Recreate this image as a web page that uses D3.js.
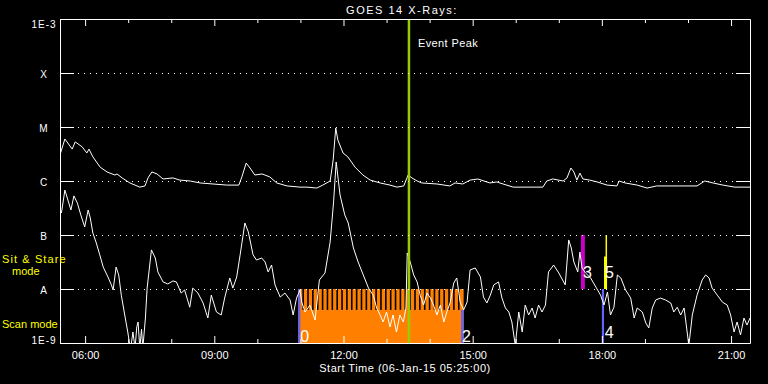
<!DOCTYPE html>
<html><head><meta charset="utf-8">
<script src="https://cdn.jsdelivr.net/npm/d3@7"></script>
<style>
body{margin:0;background:#000}
svg{display:block;background:#000}
text{font-family:"Liberation Sans",Arial,sans-serif;fill:#fff}
</style>
</head><body>
<svg id="chart" width="768" height="384"></svg>
<script>
// ---------- data ----------
const chartTitle = "GOES 14 X-Rays:";
const xAxisLabel = "Start Time (06-Jan-15 05:25:00)";
const startHour = 5 + 25 / 60;           // 05:25
const endHour = 21.44;
const labeledHours = [6, 9, 12, 15, 18, 21];
const hourTickLabels = ["06:00", "09:00", "12:00", "15:00", "18:00", "21:00"];
const minorHours = [7, 8, 10, 11, 13, 14, 16, 17, 19, 20];
const yTickValues = [1e-9, 1e-8, 1e-7, 1e-6, 1e-5, 1e-4, 1e-3];
const yTickLabels = ["1E-9", "A", "B", "C", "M", "X", "1E-3"];
const gridLevels = [1e-8, 1e-7, 1e-6, 1e-5, 1e-4];

// long channel (1-8 A)
const longTimes = [5.43,5.53,5.70,5.77,5.93,6.04,6.09,6.18,6.35,6.51,
  6.69,6.74,6.86,7.04,7.27,7.39,7.46,7.55,7.67,7.81,
  8.04,8.20,8.44,8.67,8.97,9.29,9.57,9.64,9.74,9.83,
  9.94,10.11,10.29,10.45,10.69,10.99,11.15,11.38,11.52,11.69,
  11.76,11.82,11.87,11.99,12.10,12.27,12.45,12.62,12.85,13.08,
  13.24,13.40,13.50,13.59,13.71,13.82,14.17,14.47,14.59,14.77,
  14.94,15.12,15.33,15.40,15.56,15.63,15.94,16.33,16.63,16.72,
  16.86,17.10,17.19,17.28,17.35,17.42,17.49,17.56,17.72,17.89,
  18.12,18.35,18.40,18.54,18.82,19.05,19.27,19.81,20.21,20.39,
  20.58,20.81,21.09,21.44];
const longFlux = [3.3e-6,6.0e-6,3.9e-6,5.3e-6,4.3e-6,3.3e-6,3.9e-6,2.8e-6,1.8e-6,1.47e-6,
  1.29e-6,1.35e-6,1.14e-6,9.2e-7,7.7e-7,8.1e-7,1.14e-6,1.47e-6,1.35e-6,1.09e-6,
  1.14e-6,1.04e-6,1.0e-6,9.2e-7,8.8e-7,8.4e-7,8.4e-7,1.19e-6,2.15e-6,1.74e-6,
  1.29e-6,1.35e-6,1.19e-6,9.2e-7,8.1e-7,7.7e-7,7.7e-7,7.4e-7,8.4e-7,1.0e-6,
  2.45e-6,9.6e-6,5.7e-6,3.3e-6,2.8e-6,1.8e-6,1.29e-6,1.04e-6,9.2e-7,8.4e-7,
  7.7e-7,8.1e-7,1.29e-6,1.14e-6,1.0e-6,9.2e-7,8.8e-7,8.1e-7,9.2e-7,8.8e-7,
  1.04e-6,1.09e-6,9.6e-7,9.2e-7,9.6e-7,9.2e-7,7.7e-7,7.7e-7,7.7e-7,1.0e-6,
  1.09e-6,1.0e-6,1.14e-6,1.74e-6,1.47e-6,1.04e-6,1.4e-6,1.09e-6,1.04e-6,9.6e-7,
  8.4e-7,8.1e-7,1.0e-6,9.2e-7,8.4e-7,7.4e-7,8.1e-7,8.1e-7,8.1e-7,1.0e-6,
  9.2e-7,8.4e-7,7.7e-7,7.7e-7];

// short channel (0.5-4 A)
const shortTimes = [5.45,5.53,5.60,5.67,5.74,5.82,5.90,5.99,6.07,6.12,
  6.18,6.26,6.34,6.42,6.53,6.61,6.65,6.72,6.78,6.84,
  6.92,6.99,7.03,7.06,7.11,7.16,7.20,7.23,7.27,7.31,
  7.34,7.40,7.44,7.54,7.63,7.69,7.81,7.92,8.04,8.12,
  8.23,8.31,8.43,8.50,8.62,8.74,8.85,8.93,9.05,9.16,
  9.24,9.36,9.43,9.52,9.60,9.71,9.79,9.90,9.98,10.10,
  10.18,10.25,10.33,10.41,10.53,10.64,10.76,10.83,10.91,10.99,
  11.03,11.11,11.22,11.34,11.44,11.57,11.69,11.77,11.83,11.92,
  12.03,12.11,12.23,12.34,12.46,12.58,12.69,12.77,12.85,12.92,
  13.00,13.08,13.15,13.23,13.31,13.39,13.45,13.48,13.55,13.63,
  13.71,13.78,13.86,13.94,14.02,14.09,14.17,14.25,14.33,14.40,
  14.48,14.56,14.63,14.71,14.79,14.87,14.94,15.06,15.18,15.25,
  15.33,15.41,15.49,15.60,15.68,15.76,15.84,15.91,15.99,16.07,
  16.15,16.22,16.30,16.38,16.45,16.53,16.61,16.69,16.76,16.88,
  17.00,17.15,17.23,17.29,17.35,17.44,17.49,17.54,17.62,17.74,
  17.86,17.97,18.05,18.13,18.20,18.28,18.36,18.44,18.55,18.67,
  18.75,18.82,18.94,19.02,19.09,19.17,19.25,19.36,19.48,19.60,
  19.67,19.75,19.83,19.91,20.02,20.10,20.21,20.33,20.41,20.49,
  20.56,20.68,20.80,20.91,20.99,21.07,21.14,21.22,21.30,21.37,
  21.44];
const shortFlux = [2.55e-7,6.8e-7,4.45e-7,2.9e-7,5.3e-7,3.9e-7,2.35e-7,1.41e-7,2.9e-7,2.07e-7,
  1.09e-7,7.1e-8,4.3e-8,2.55e-8,1.67e-8,1.19e-8,9.6e-9,2.55e-8,1.82e-8,7.7e-9,
  3.3e-9,1.6e-9,1.0e-9,8e-10,1.6e-9,8e-10,2.0e-9,2.45e-9,8e-10,1.8e-9,
  8e-10,2.9e-9,1.04e-8,5.3e-8,3.75e-8,2.07e-8,1.35e-8,1.24e-8,1.41e-8,1.35e-8,
  8.4e-9,9.6e-9,4.6e-9,1.04e-8,8.4e-9,5.5e-9,2.9e-9,7.7e-9,3.75e-9,3.3e-9,
  6.8e-9,1.6e-8,1.04e-8,1.67e-8,4.3e-8,1.67e-7,1.14e-7,4.3e-8,3.44e-8,3.75e-8,
  3.16e-8,2.07e-8,2.78e-8,1.19e-8,7.1e-9,8.4e-9,6.25e-9,3.3e-9,6.8e-9,9.6e-9,
  5.7e-9,3.75e-9,5.05e-9,2.67e-9,1.47e-8,1.98e-8,7.4e-8,4.1e-7,2.25e-6,5.5e-7,
  2.35e-7,1.67e-7,5.75e-8,3.16e-8,1.82e-8,1.04e-8,7.7e-9,4.45e-9,3.3e-9,2.45e-9,
  3.75e-9,1.98e-9,3.3e-9,1.6e-9,3.3e-9,2.45e-9,4.45e-9,4.65e-8,3.16e-8,1.82e-8,
  1.35e-8,7.7e-9,5.05e-9,8.4e-9,6.8e-9,5.05e-9,3.3e-9,5.05e-9,2.45e-9,3.75e-9,
  5.7e-9,1.29e-8,1.6e-8,5.7e-9,4.1e-9,5.7e-9,2.25e-8,2.45e-8,1.67e-8,7.1e-9,
  5.5e-9,7.7e-9,1.19e-8,1.35e-8,6.8e-9,4.45e-9,3.75e-9,2.45e-9,9e-10,3.75e-9,
  1.6e-9,5.05e-9,3.3e-9,4.45e-9,2.9e-9,5.05e-9,3.75e-9,5.05e-9,2.07e-8,2.78e-8,
  1.98e-8,1.19e-8,8.1e-8,5.75e-8,3.16e-8,2.07e-8,4.85e-8,2.45e-8,1.98e-8,1.6e-8,
  1.09e-8,7.7e-9,5.05e-9,8.8e-9,3.3e-9,4.6e-9,1.82e-8,1.6e-8,9.6e-9,6.8e-9,
  2.9e-9,4.45e-9,3.75e-9,2.35e-9,1.9e-9,4.45e-9,6.25e-9,6.8e-9,6.25e-9,5.5e-9,
  3.75e-9,4.6e-9,3.3e-9,4.45e-9,9e-10,3.3e-9,7.7e-9,1.47e-8,1.82e-8,1.6e-8,
  1.04e-8,7.7e-9,5.7e-9,5.05e-9,3.3e-9,1.6e-9,2.45e-9,1.41e-9,2.9e-9,2.15e-9,
  2.9e-9];

// event & observations
const eventPeakHour = 13.52;
const eventLabel = "Event Peak";
const scanStart = 10.95, scanEnd = 14.79, rasterCount = 34;
const scanBand = [1e-9, 1e-8], rasterBandLow = 4.1e-9;
const stareBand = [1e-8, 1e-7];
const obsLabels = ["0", "2", "3", "4", "5"];
const obsTimes = [10.95, 14.73, 17.515, 18.0, 18.05];
const obsEnds  = [10.999, 14.79, 17.605, 18.05, 18.12];
const obsModes = ["scanEdge", "scanEdgeLow", "stare", "scan", "stareYellow"];
const modeLabels = ["Sit & Stare", "mode", "Scan mode"];

// ---------- drawing ----------
const L = 60, R = 750, T = 19, B = 343;
const svg = d3.select("#chart");
const x = d3.scaleLinear().domain([startHour, endHour]).range([L, R]);
const y = d3.scaleLog().domain([1e-9, 1e-3]).range([B, T]);

svg.append("defs").append("clipPath").attr("id", "plotclip")
  .append("rect").attr("x", L).attr("y", T).attr("width", R - L).attr("height", B - T);
const plot = svg.append("g").attr("clip-path", "url(#plotclip)");

// dotted grid
svg.append("g").selectAll("line").data(gridLevels).join("line")
  .attr("x1", L).attr("x2", R)
  .attr("y1", d => Math.round(y(d)) + 0.5).attr("y2", d => Math.round(y(d)) + 0.5)
  .attr("stroke", "#fff").attr("stroke-width", 1).attr("stroke-dasharray", "1,5");

// scan-mode raster block
const scanX0 = x(scanStart), scanX1 = x(scanEnd);
plot.append("rect").attr("x", scanX0).attr("width", scanX1 - scanX0)
  .attr("y", y(scanBand[1])).attr("height", y(scanBand[0]) - y(scanBand[1]))
  .attr("fill", "#ff8000");
const rasterW = (scanX1 - scanX0) / rasterCount;
plot.append("g").selectAll("rect").data(d3.range(1, rasterCount)).join("rect")
  .attr("x", i => scanX0 + i * rasterW - 0.8).attr("width", 1.6)
  .attr("y", y(scanBand[1])).attr("height", y(rasterBandLow) - y(scanBand[1]))
  .attr("fill", "#000");

// observation markers
const obs = obsLabels.map((l, i) => ({label: l, t0: obsTimes[i], t1: obsEnds[i], mode: obsModes[i]}));
obs.forEach(o => {
  const x0 = x(o.t0), w = Math.max(2, x(o.t1) - x(o.t0));
  if (o.mode === "scanEdge" || o.mode === "scan") {
    plot.append("rect").attr("x", x0).attr("width", w)
      .attr("y", y(scanBand[1])).attr("height", y(scanBand[0]) - y(scanBand[1])).attr("fill", "#6464ff");
  } else if (o.mode === "scanEdgeLow") {
    plot.append("rect").attr("x", x0).attr("width", w)
      .attr("y", y(rasterBandLow)).attr("height", y(scanBand[0]) - y(rasterBandLow)).attr("fill", "#6464ff");
  } else if (o.mode === "stare") {
    plot.append("rect").attr("x", x0).attr("width", w)
      .attr("y", y(stareBand[1])).attr("height", y(stareBand[0]) - y(stareBand[1])).attr("fill", "#c800c8");
  } else if (o.mode === "stareYellow") {
    plot.append("rect").attr("x", x0 + w - 1.5).attr("width", 1.5)
      .attr("y", y(stareBand[1])).attr("height", y(stareBand[0]) - y(stareBand[1])).attr("fill", "#ffff00");
    plot.append("rect").attr("x", x0).attr("width", w)
      .attr("y", y(4.0e-8)).attr("height", y(stareBand[0]) - y(4.0e-8)).attr("fill", "#ffff00");
  }
});

// curves
const line = d3.line().x(d => x(d[0])).y(d => y(d[1]));
plot.append("path").datum(d3.zip(longTimes, longFlux)).attr("d", line)
  .attr("fill", "none").attr("stroke", "#fff").attr("stroke-width", 1);
plot.append("path").datum(d3.zip(shortTimes, shortFlux)).attr("d", line)
  .attr("fill", "none").attr("stroke", "#fff").attr("stroke-width", 1);

// event peak line
plot.append("line").attr("x1", x(eventPeakHour)).attr("x2", x(eventPeakHour))
  .attr("y1", T).attr("y2", B).attr("stroke", "#99cc00").attr("stroke-width", 2.5);
svg.append("text").attr("x", x(eventPeakHour) + 9).attr("y", 47)
  .attr("font-size", 11).attr("letter-spacing", 0.4).text(eventLabel);

// observation labels
const labelPos = {scanEdge: [2, 342], scanEdgeLow: [1, 342], stare: [2, 278], scan: [3, 338], stareYellow: [1, 278]};
svg.append("g").selectAll("text").data(obs).join("text")
  .attr("x", d => x(d.t0) + labelPos[d.mode][0]).attr("y", d => labelPos[d.mode][1])
  .attr("font-size", 16).text(d => d.label);

// axes
const axisStyle = g => {
  g.selectAll("path.domain").attr("stroke", "#fff");
  g.selectAll(".tick line").attr("stroke", "#fff");
};
const allHours = labeledHours.concat(minorHours).sort((a, b) => a - b);
const hourLabel = h => { const i = labeledHours.indexOf(h); return i >= 0 ? hourTickLabels[i] : ""; };

const gB = svg.append("g").attr("transform", `translate(0,${B})`)
  .call(d3.axisBottom(x).tickValues(allHours).tickFormat(hourLabel).tickSizeOuter(0).tickSizeInner(-7));
gB.call(axisStyle);
gB.selectAll(".tick line").attr("y2", d => labeledHours.includes(d) ? -7 : -4);
gB.selectAll(".tick text").attr("y", 16).attr("dy", 0).attr("fill", "#fff")
  .attr("font-size", 11).attr("font-family", '"Liberation Sans",Arial,sans-serif');

const gT = svg.append("g").attr("transform", `translate(0,${T})`)
  .call(d3.axisTop(x).tickValues(allHours).tickFormat("").tickSizeOuter(0).tickSizeInner(-7));
gT.call(axisStyle);
gT.selectAll(".tick line").attr("y2", d => labeledHours.includes(d) ? 7 : 4);

const gL = svg.append("g").attr("transform", `translate(${L},0)`)
  .call(d3.axisLeft(y).tickValues(yTickValues).tickFormat((d, i) => yTickLabels[i]).tickSizeOuter(0).tickSizeInner(-14));
gL.call(axisStyle);
gL.selectAll(".tick text").attr("x", -16).attr("text-anchor", "middle").attr("fill", "#fff")
  .attr("font-size", 10).attr("letter-spacing", 1).attr("font-family", '"Liberation Sans",Arial,sans-serif')
  .attr("dy", (d, i) => i === 0 ? 0 : (i === yTickValues.length - 1 ? 8 : 4.7));

const gR = svg.append("g").attr("transform", `translate(${R},0)`)
  .call(d3.axisRight(y).tickValues(yTickValues).tickFormat("").tickSizeOuter(0).tickSizeInner(-14));
gR.call(axisStyle);

// titles
svg.append("text").attr("x", 402).attr("y", 14).attr("text-anchor", "middle")
  .attr("font-size", 11).attr("letter-spacing", 1.5).text(chartTitle);
svg.append("text").attr("x", 405).attr("y", 372).attr("text-anchor", "middle")
  .attr("font-size", 11).attr("letter-spacing", 0.5).text(xAxisLabel);

// mode labels
svg.append("text").attr("x", 2).attr("y", 263).attr("font-size", 11).attr("letter-spacing", 1.1)
  .attr("fill", "#ffff00").style("fill", "#ffff00").text(modeLabels[0]);
svg.append("text").attr("x", 12).attr("y", 275).attr("font-size", 11)
  .style("fill", "#ffff00").text(modeLabels[1]);
svg.append("text").attr("x", 2).attr("y", 328).attr("font-size", 11)
  .style("fill", "#ffff00").text(modeLabels[2]);
</script>
</body></html>
